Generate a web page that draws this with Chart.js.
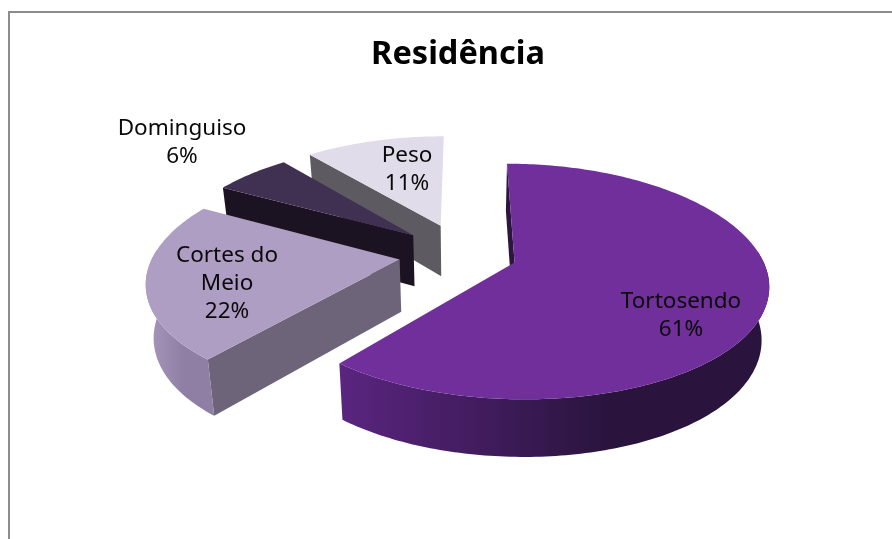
<!DOCTYPE html>
<html><head><meta charset="utf-8">
<style>
html,body{margin:0;padding:0;background:#fff;width:892px;height:539px;overflow:hidden}
#frame{position:absolute;left:8px;top:11px;width:884px;height:528px;border-left:2px solid #8c8c8c;border-top:2px solid #8c8c8c;box-sizing:border-box}
#wrap{position:absolute;left:0;top:0;width:892px;height:539px}
</style>
<script src="https://cdn.jsdelivr.net/npm/chart.js@4"></script>
</head><body>
<div id="frame"></div>
<div id="wrap"><canvas id="c" width="892" height="539"></canvas></div>
<script>
const chartTitle = "Residência";
const categories = ["Tortosendo", "Cortes do Meio", "Dominguiso", "Peso"];
const shares = [61, 22, 6, 11];
const explodePercent = [22, 26, 27, 28];
const topColors = ["#702F9A", "#AF9EC4", "#403052", "#E1DCE9"];
const cutColors = ["#2C1640", "#6E6479", "#1B1322", "#5E5A62"];
const wallLeftColors = ["#5A2580", "#A898BC", "#2C2038", "#9A96A0"];
const wallRightColors = ["#2A143E", "#8F7FA5", "#2C2038", "#9A96A0"];
const labelLines = [["Tortosendo"], ["Cortes do", "Meio"], ["Dominguiso"], ["Peso"]];

// View of the tilted disc
const view = {cx: 463, cy: 254, a: 246, b: 112, kx: 0.17, ky: 0.16, h: 52};
function project(X, Y, z) {
  const wx = 1 - view.kx * Y, wy = 1 - view.ky * Y;
  return [
    view.cx + view.a * X / wx * (1 - 0.025 * z),
    view.cy + view.b * Y / wy + view.h * z * (1 + 0.1 * Y)
  ];
}
function trace(ctx, pts) {
  ctx.beginPath();
  pts.forEach((p, i) => i ? ctx.lineTo(p[0], p[1]) : ctx.moveTo(p[0], p[1]));
  ctx.closePath();
}
const labelAnchors = [[681, 308], [227, 262], [182, 135], [407, 162]];

const pie3d = {
  id: "pie3d",
  beforeDatasetDraw(chart, args) {
    const ctx = chart.ctx;
    const arcs = chart.getDatasetMeta(args.index).data;
    ctx.save();
    [3, 2, 1, 0].forEach(i => {
      const arc = arcs[i];
      const s = arc.startAngle, e = arc.endAngle, m = (s + e) / 2;
      const d = arc.options.offset / 100;
      const ox = Math.cos(m) * d, oy = Math.sin(m) * d;
      const rim = [], front = [];
      const n = Math.max(8, Math.ceil((e - s) * 180 / Math.PI));
      for (let t = 0; t <= n; t++) {
        const an = s + (e - s) * t / n;
        const q = [ox + Math.cos(an), oy + Math.sin(an)];
        rim.push(q);
        if (Math.sin(an) > -0.1) front.push(q);
      }
      const P0 = project(ox, oy, 0), P1 = project(ox, oy, 1);
      const first = rim[0];
      // radial cut face on the side that faces the viewer
      ctx.fillStyle = cutColors[i];
      trace(ctx, [P0, project(first[0], first[1], 0), project(first[0], first[1], 1), P1]);
      ctx.fill();
      // curved outer wall, front part only
      const topRim = rim.map(q => project(q[0], q[1], 0));
      if (front.length > 1) {
        const frontTop = front.map(q => project(q[0], q[1], 0));
        const frontBot = front.map(q => project(q[0], q[1], 1));
        const xs = frontTop.map(p => p[0]);
        const xMin = Math.min(...xs), xMax = Math.max(...xs);
        const g = ctx.createLinearGradient(xMin, 0, xMax, 0);
        g.addColorStop(0, wallLeftColors[i]);
        g.addColorStop(0.62, wallRightColors[i]);
        g.addColorStop(1, wallRightColors[i]);
        ctx.fillStyle = g;
        trace(ctx, frontTop.concat(frontBot.slice().reverse()));
        ctx.fill();
      }
      // top face
      ctx.fillStyle = arc.options.backgroundColor;
      trace(ctx, [P0].concat(topRim));
      ctx.fill();
    });
    ctx.restore();
    return false;
  },
  afterDatasetsDraw(chart) {
    const ctx = chart.ctx;
    const total = shares.reduce((p, v) => p + v, 0);
    ctx.save();
    ctx.fillStyle = "#0a0a0a";
    ctx.font = "22.5px 'Noto Sans'";
    ctx.textAlign = "center";
    ctx.textBaseline = "alphabetic";
    labelLines.forEach((lines, i) => {
      const [x, y] = labelAnchors[i];
      lines.concat([Math.round(shares[i] / total * 100) + "%"]).forEach((t, j) => {
        ctx.fillText(t, x, y + j * 28);
      });
    });
    ctx.restore();
  }
};

new Chart(document.getElementById("c"), {
  type: "pie",
  data: {
    labels: categories,
    datasets: [{data: shares, backgroundColor: topColors, borderWidth: 0, offset: explodePercent}]
  },
  options: {
    responsive: false,
    animation: false,
    rotation: 0,
    layout: {padding: {left: 24}},
    plugins: {
      legend: {display: false},
      tooltip: {enabled: false},
      title: {display: true, text: chartTitle, color: "#000", padding: {top: 35, bottom: 10},
        font: {family: "'Noto Sans'", size: 32.5, weight: "bold"}}
    }
  },
  plugins: [pie3d]
});
</script>
</body></html>
